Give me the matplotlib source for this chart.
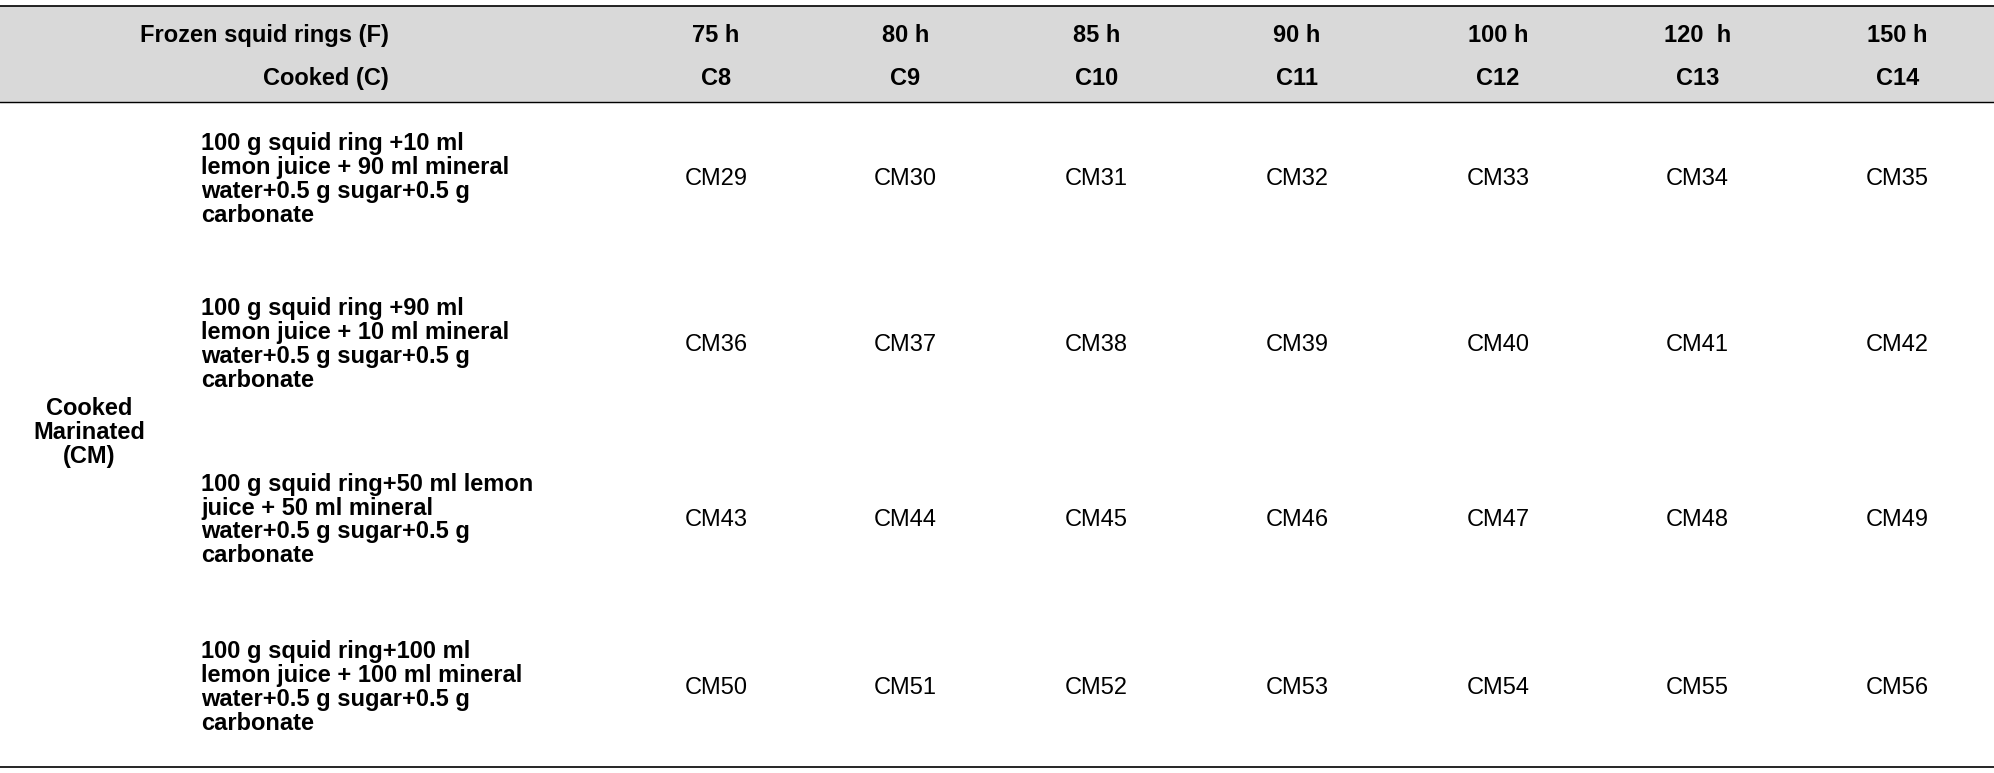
import matplotlib.pyplot as plt
from matplotlib.patches import Rectangle

plt.rcParams['font.family'] = ['Liberation Sans Narrow', 'Liberation Sans', 'DejaVu Sans']

times = ['75 h', '80 h', '85 h', '90 h', '100 h', '120  h', '150 h']
cooked = ['C8', 'C9', 'C10', 'C11', 'C12', 'C13', 'C14']
recipes = [
    '100 g squid ring +10 ml\nlemon juice + 90 ml mineral\nwater+0.5 g sugar+0.5 g\ncarbonate',
    '100 g squid ring +90 ml\nlemon juice + 10 ml mineral\nwater+0.5 g sugar+0.5 g\ncarbonate',
    '100 g squid ring+50 ml lemon\njuice + 50 ml mineral\nwater+0.5 g sugar+0.5 g\ncarbonate',
    '100 g squid ring+100 ml\nlemon juice + 100 ml mineral\nwater+0.5 g sugar+0.5 g\ncarbonate',
]
codes = [['CM%d' % (29 + 7 * r + c) for c in range(7)] for r in range(4)]

# layout in display units (image width 1568)
W, H = 1568, 608
col_x = [563, 712, 862, 1020, 1178, 1335, 1492]
row_y = [141, 271, 409, 541]
fs = 17

fig = plt.figure(figsize=(19.94, 7.73), dpi=100)
ax = fig.add_axes([0, 0, 1, 1])
ax.set_xlim(0, W)
ax.set_ylim(H, 0)
ax.axis('off')

ax.add_patch(Rectangle((0, 5), W, 75, color='#d9d9d9', zorder=0))
ax.plot([0, W], [5, 5], color='black', lw=1.2)
ax.plot([0, W], [80, 80], color='black', lw=1.0)
ax.plot([0, W], [603, 603], color='black', lw=1.2)

ax.text(306, 28, 'Frozen squid rings (F)', ha='right', va='center', fontsize=fs, weight='bold')
ax.text(306, 62, 'Cooked (C)', ha='right', va='center', fontsize=fs, weight='bold')
for x, t, c in zip(col_x, times, cooked):
    ax.text(x, 28, t, ha='center', va='center', fontsize=fs, weight='bold')
    ax.text(x, 62, c, ha='center', va='center', fontsize=fs, weight='bold')

ax.text(70, 340, 'Cooked\nMarinated\n(CM)', ha='center', va='center', fontsize=fs,
        weight='bold', linespacing=1.05)

for y, rec, row in zip(row_y, recipes, codes):
    ax.text(158, y, rec, ha='left', va='center', fontsize=fs, weight='bold', linespacing=1.05)
    for x, code in zip(col_x, row):
        ax.text(x, y, code, ha='center', va='center', fontsize=fs)

fig.savefig('out.png', dpi=100)
